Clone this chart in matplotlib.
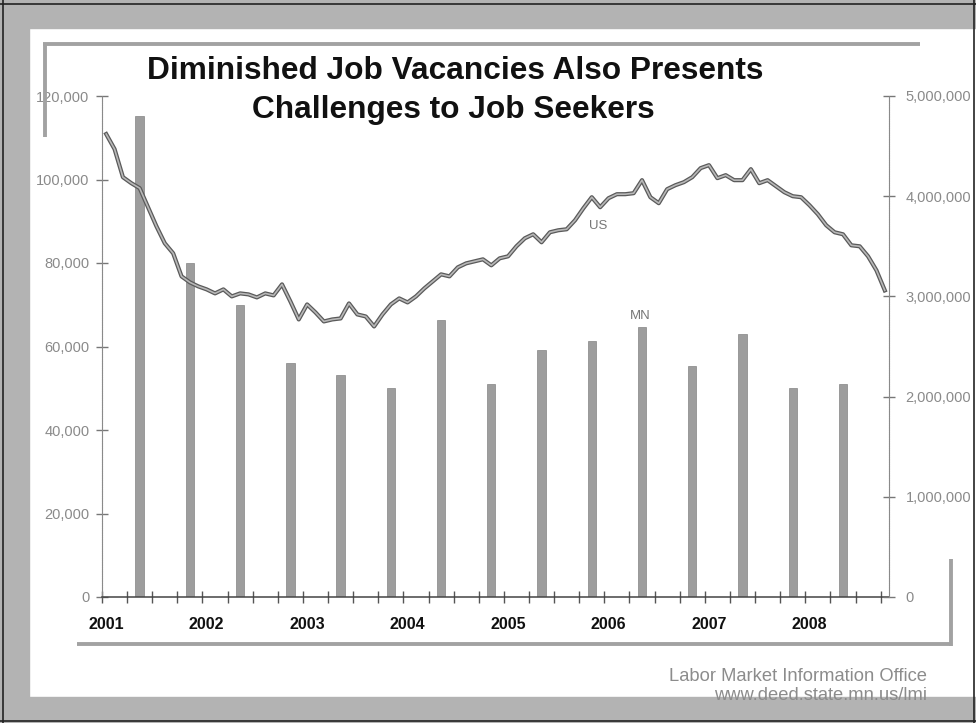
import numpy as np
import matplotlib.pyplot as plt
import matplotlib.transforms as mtransforms
from matplotlib.lines import Line2D
from matplotlib.patches import Rectangle
from matplotlib.ticker import FuncFormatter

plt.rcParams['font.family'] = ['Liberation Sans', 'DejaVu Sans']

# US job openings, monthly from Jan 2001 (millions, right axis)
us_start_year = 2001
us_openings = [
    4.62, 4.47, 4.19, 4.13, 4.08, 3.89, 3.70, 3.53, 3.43, 3.20, 3.14, 3.10,
    3.07, 3.03, 3.07, 3.00, 3.03, 3.02, 2.99, 3.03, 3.01, 3.12, 2.95, 2.77,
    2.92, 2.84, 2.75, 2.77, 2.78, 2.93, 2.82, 2.80, 2.70, 2.82, 2.92, 2.98,
    2.94, 3.00, 3.08, 3.15, 3.22, 3.20, 3.29, 3.33, 3.35, 3.37, 3.31, 3.38,
    3.40, 3.50, 3.58, 3.62, 3.54, 3.64, 3.66, 3.67, 3.76, 3.88, 3.99, 3.89,
    3.98, 4.02, 4.02, 4.03, 4.16, 3.99, 3.93, 4.07, 4.11, 4.14, 4.19, 4.28,
    4.31, 4.18, 4.21, 4.16, 4.16, 4.27, 4.13, 4.16, 4.10, 4.04, 4.00, 3.99,
    3.91, 3.82, 3.71, 3.64, 3.62, 3.51, 3.50, 3.40, 3.26, 3.06,
]

# MN job vacancy survey (left axis), 2nd and 4th quarter
mn_periods = ["2001-05", "2001-11", "2002-05", "2002-11", "2003-05", "2003-11",
              "2004-05", "2004-11", "2005-05", "2005-11", "2006-05", "2006-11",
              "2007-05", "2007-11", "2008-05"]
mn_vacancies = [115200, 80000, 69900, 56100, 53200, 50000, 66300, 51000,
                59200, 61300, 64600, 55400, 62900, 50000, 51000]

years = [2001, 2002, 2003, 2004, 2005, 2006, 2007, 2008]
left_ticks = [0, 20000, 40000, 60000, 80000, 100000, 120000]
right_ticks = [0, 1000000, 2000000, 3000000, 4000000, 5000000]


def month_index(s):
    y, m = s.split("-")
    return (int(y) - us_start_year) * 12 + int(m) - 1


W, H = 976, 723
fig = plt.figure(figsize=(W / 100, H / 100), dpi=100)
fig.patch.set_facecolor("white")

# outer scanned frame
band = "#b3b3b3"
fig.patches.append(Rectangle((0, 1 - 28 / H), 1, 28 / H, transform=fig.transFigure, color=band, zorder=0))
fig.patches.append(Rectangle((0, 0), 29 / W, 1, transform=fig.transFigure, color=band, zorder=0))
fig.patches.append(Rectangle((0, 0), 1, 26 / H, transform=fig.transFigure, color=band, zorder=0))
for xs, ys in [([3, 3], [0, H]), ([0, W], [4, 4]), ([0, W], [721, 721]), ([974, 974], [0, H])]:
    fig.add_artist(Line2D([x / W for x in xs], [1 - y / H for y in ys], transform=fig.transFigure,
                          color="#222222", lw=1.2))

# inner frame pieces
inner = "#a2a2a2"
for xs, ys in [([43, 920], [44, 44]), ([45, 45], [44, 137]), ([77, 952], [644, 644]), ([951, 951], [559, 646])]:
    fig.add_artist(Line2D([x / W for x in xs], [1 - y / H for y in ys], transform=fig.transFigure,
                          color=inner, lw=2.8, solid_capstyle="butt"))

ax = fig.add_axes([102 / W, 1 - 597 / H, (889 - 102) / W, (597 - 96) / H])
ax2 = ax.twinx()

us_x = np.arange(len(us_openings))
mn_x = [month_index(p) for p in mn_periods]

ax.bar(mn_x, mn_vacancies, width=1.0, color="#9d9d9d", edgecolor="#858585", linewidth=0.5, zorder=2)
ax2.plot(us_x, np.array(us_openings) * 1e6, color="#5a5a5a", lw=3.0, solid_joinstyle="round", zorder=3)
ax2.plot(us_x, np.array(us_openings) * 1e6, color="#b8b8b8", lw=1.2, solid_joinstyle="round", zorder=4)

ax.set_xlim(-0.5, len(us_openings) - 0.5)
ax.set_ylim(0, 120000)
ax2.set_ylim(0, 5000000)
ax.set_yticks(left_ticks)
ax2.set_yticks(right_ticks)
fmt = FuncFormatter(lambda v, _: f"{v:,.0f}")
ax.yaxis.set_major_formatter(fmt)
ax2.yaxis.set_major_formatter(fmt)
ax.set_xticks(np.arange(-0.5, len(us_openings), 3))
ax.set_xticklabels([])

for a in (ax, ax2):
    a.spines["top"].set_visible(False)
    a.set_facecolor("none")
ax.spines["right"].set_visible(False)
ax2.spines["left"].set_visible(False)
ax2.spines["bottom"].set_visible(False)
ax.spines["left"].set_color("#8a8a8a")
ax.spines["left"].set_linestyle((0, (1, 0.6)))
ax2.spines["right"].set_color("#8a8a8a")
ax2.spines["right"].set_linestyle((0, (1, 0.6)))
ax.spines["bottom"].set_color("#444444")
ax.spines["bottom"].set_linewidth(1.1)

ax.tick_params(axis="y", direction="inout", length=8, width=1, color="#777777",
               labelcolor="#8a8a8a", labelsize=10.5, pad=5)
ax2.tick_params(axis="y", direction="inout", length=8, width=1, color="#777777",
                labelcolor="#8a8a8a", labelsize=10.5, pad=8)
ax.tick_params(axis="x", direction="inout", length=8, width=1, color="#555555")

trans = mtransforms.blended_transform_factory(ax.transData, ax.transAxes)
for i, yr in enumerate(years):
    ax.text(i * 12, -0.054, str(yr), transform=trans, ha="center", va="center",
            fontsize=11.5, fontweight="bold", color="#111111")

ax2.text(58.8, 3.70e6, "US", ha="center", va="center", fontsize=9.5, color="#777777", zorder=5)
ax.text(63.8, 67300, "MN", ha="center", va="center", fontsize=9.5, color="#777777", zorder=5)

fig.text(455 / W, 1 - 79 / H, "Diminished Job Vacancies Also Presents", ha="center", va="baseline",
         fontsize=22.8, fontweight="bold", color="#111111")
fig.text(453 / W, 1 - 118 / H, "Challenges to Job Seekers", ha="center", va="baseline",
         fontsize=22.8, fontweight="bold", color="#111111")

fig.text(927 / W, 1 - 681 / H, "Labor Market Information Office", ha="right", va="baseline",
         fontsize=13.2, color="#8c8c8c")
fig.text(927 / W, 1 - 700 / H, "www.deed.state.mn.us/lmi", ha="right", va="baseline",
         fontsize=13.2, color="#8c8c8c")

fig.savefig("out.png", dpi=100)
